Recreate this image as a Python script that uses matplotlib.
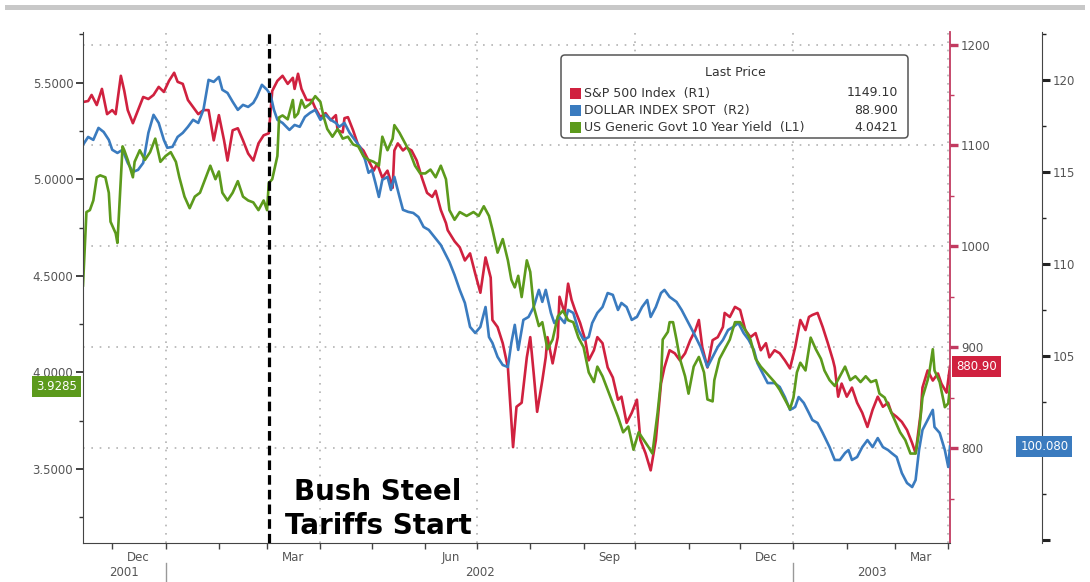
import matplotlib
matplotlib.use('Agg')
import matplotlib.pyplot as plt
import matplotlib.dates as mdates
import matplotlib.transforms as mtransforms
from matplotlib.patches import Rectangle, FancyBboxPatch
import pandas as pd

# --- data (days counted from the first date of the chart) ---
start = pd.Timestamp('2001-11-14')
end = pd.Timestamp('2003-04-02')
tariff_date = pd.Timestamp('2002-03-02')

spx_day = [0, 3, 5, 8, 11, 14, 17, 19, 22, 24, 26, 29, 32, 35, 38, 41, 44, 47, 50, 53, 55, 58, 61, 64, 67, 70,
           73, 76, 79, 82, 84, 87, 90, 93, 96, 99, 102, 105, 108,
           110, 113, 116, 119, 122, 123, 125, 127, 130, 133, 135, 138, 141, 144, 147, 148, 151, 152, 154, 157, 160,
           163, 166, 169, 171, 174, 177, 180, 181, 183, 186, 188, 191, 194, 197, 200, 203, 205, 208, 211, 212, 216,
           219, 222, 225, 228, 231, 234, 237, 238, 241, 244, 247, 250, 252, 255, 258, 260, 262, 264, 267, 269, 270,
           273, 276, 277, 280, 282, 284, 286, 289, 292, 294, 297, 299, 302, 305, 308, 311, 313, 316, 319, 322, 324,
           327, 330, 333, 336, 338, 341, 344, 347, 350, 353, 356, 358, 360, 363, 366, 369, 372, 373, 376, 379, 382,
           385, 388, 391, 394, 397, 399, 402, 405, 408, 411, 414, 417, 420, 422, 424, 427, 430, 433, 436, 437, 439,
           441, 444, 447, 450, 453, 456, 459, 462, 465, 468, 470, 473, 476, 479, 482, 484, 487, 488, 491, 494, 497,
           499, 502, 504]
spx = [1143, 1144, 1150, 1140, 1156, 1131, 1135, 1131, 1169, 1154, 1135, 1122, 1135, 1148, 1146, 1150, 1158, 1153,
       1164, 1172, 1163, 1161, 1145, 1138, 1131, 1135,
       1135, 1105, 1130, 1105, 1085, 1115, 1117, 1105, 1092, 1085, 1102, 1110, 1112,
       1154, 1164, 1169, 1161, 1167, 1156, 1171, 1156, 1145, 1145, 1137, 1128, 1132, 1125, 1130, 1115, 1113, 1127,
       1128, 1115, 1100,
       1095, 1085, 1075, 1082, 1068, 1075, 1058, 1095, 1102, 1095, 1098, 1095, 1085, 1068, 1053, 1049, 1055, 1036,
       1023, 1016, 1005,
       999, 986, 993, 973, 954, 989, 969, 927, 920, 904, 880, 801, 841, 845, 890, 910, 874, 836, 867, 890, 910,
       884, 910, 950, 934, 963, 947, 937, 924, 907, 887, 897, 910, 904, 880, 870, 848, 851, 825, 835, 848, 808,
       795, 778, 808, 864, 880, 897, 894, 887, 894, 907, 917, 927, 900, 880, 907, 910, 920, 934, 930, 940, 937,
       917, 910, 914, 897, 904, 890, 897, 894, 887, 879, 900, 927, 917, 930, 932, 934, 920, 904, 887, 880, 851,
       864, 851, 860, 845, 835, 821, 838, 851, 841, 845, 835, 831, 826, 818, 805, 795, 835, 860, 877, 867, 874,
       864, 855, 880.90]

dxy_day = [0, 3, 6, 9, 12, 15, 17, 20, 23, 26, 29, 32, 35, 38, 41, 44, 47, 49, 52, 55, 58, 61, 64, 67, 70, 73, 76,
           79, 81, 84, 87, 90, 93, 96, 99, 101, 104, 107, 109, 111, 113, 116, 120, 123, 126, 129, 132, 135, 138,
           141, 144, 147, 149, 152, 155, 158, 161, 164, 166, 168, 170, 172, 174, 177, 179, 181, 184, 186, 189, 192,
           195, 198, 201, 208, 213, 216, 219, 222, 225, 228, 231, 234, 236, 238, 241, 244, 247, 249, 251, 253, 256,
           259, 262, 265, 267, 269, 272, 274, 277, 280, 282, 285, 288, 291, 294, 296, 299, 302, 305, 308, 311, 313,
           316, 319, 322, 325, 328, 330, 333, 336, 338, 341, 345, 348, 351, 355, 359, 363, 366, 369, 372, 375, 378,
           381, 384, 387, 390, 392, 395, 398, 402, 405, 408, 411, 414, 416, 419, 422, 424, 427, 430, 434, 437, 440,
           443, 445, 447, 450, 453, 456, 459, 462, 465, 468, 470, 473, 476, 479, 482, 484, 486, 488, 491, 494, 495,
           498, 501, 503, 504]
dxy = [116.47, 116.9, 116.74, 117.39, 117.17, 116.74, 116.2, 116.03, 116.2, 115.49, 115.0, 115.11, 115.49, 117.12,
       118.1, 117.66, 116.74, 116.31, 116.36, 116.9, 117.12, 117.45, 117.83, 117.66, 118.37, 120.0, 119.89,
       120.16, 119.46, 119.29, 118.81, 118.37, 118.64, 118.53, 118.75, 119.08, 119.73, 119.46, 119.19, 118.37,
       117.83, 117.66, 117.28, 117.55, 117.45, 117.99, 118.21, 118.37, 117.83,
       118.1, 117.83, 117.66, 117.45, 117.66, 117.12, 116.74, 116.36, 115.65, 114.95, 115.11, 114.4, 113.64,
       114.57, 114.73, 114.02, 114.73, 113.64, 112.94, 112.83, 112.77,
       112.55, 112.01, 111.85, 111.03, 110.11, 109.4, 108.59, 107.88, 106.58, 106.25, 106.58, 107.66, 106.03,
       105.71, 104.95, 104.51, 104.4, 105.71, 106.69, 105.33, 106.96,
       107.12, 107.66, 108.59, 107.94, 108.59, 107.34, 106.79, 107.12, 106.79, 107.5, 107.34, 106.41, 105.87,
       106.03, 106.79, 107.34, 107.66, 108.42, 108.32, 107.5, 107.88,
       107.66, 106.96, 107.12, 107.66, 108.04, 107.12, 107.66, 108.42, 108.59, 108.21, 107.94, 107.5, 106.96,
       106.25, 105.49, 104.4, 104.95, 105.49, 105.87, 106.41, 106.58,
       106.79, 106.25, 105.87, 105.33, 104.62, 104.08, 103.53, 103.53, 103.32, 102.77, 102.07, 102.23, 102.77,
       102.45, 101.9, 101.52, 101.36, 100.82, 100.05, 99.35, 99.35,
       99.73, 99.89, 99.35, 99.51, 100.05, 100.43, 100.05, 100.54, 100.05, 99.89, 99.73, 99.51, 98.64, 98.1,
       97.88, 98.26, 99.89, 100.98, 101.52, 102.07, 101.14,
       100.82, 99.89, 98.97, 100.08]

yld_day = [0, 2, 4, 6, 8, 10, 13, 15, 16, 19, 20, 23, 24, 26, 29, 30, 33, 36, 39, 42, 45, 48, 51, 54, 56, 59, 62,
           65, 68, 71, 74, 77, 79, 81, 84, 87, 90, 93, 96, 99, 102, 105, 107, 108, 110, 113, 114, 116, 119, 122,
           123, 125, 127, 129, 132, 135, 138, 140, 142, 145, 148, 151, 154, 157, 160, 163, 166, 169, 172, 174, 177,
           180, 181, 184, 187, 190, 193, 196, 199, 202, 205, 208, 211, 213, 216, 219, 223, 227, 230, 233, 236, 238,
           241, 244, 247, 249, 251, 253, 255, 258, 260, 262, 265, 267, 270, 273, 276, 279, 282, 285, 288, 291, 294,
           297, 299, 302, 305, 308, 311, 314, 317, 320, 323, 326, 329, 331, 334, 336, 337, 340, 341, 343, 345, 347,
           350, 352, 355, 358, 361, 363, 366, 367, 370, 373, 376, 379, 382, 385, 388, 391, 394, 397, 399, 402, 405,
           408, 411, 413, 415, 417, 420, 423, 426, 429, 431, 434, 437, 440, 443, 446, 449, 452, 455, 458, 461, 463,
           466, 469, 472, 475, 478, 481, 484, 486, 488, 491, 492, 494, 495, 498, 501, 503, 504]
yld = [4.45, 4.83, 4.84, 4.89, 5.01, 5.02, 5.01, 4.93, 4.78, 4.72, 4.67, 5.17, 5.15, 5.10, 5.01, 5.09, 5.15, 5.10,
       5.14, 5.21, 5.09, 5.12, 5.14, 5.09, 5.01, 4.91, 4.85,
       4.91, 4.93, 5.00, 5.07, 5.00, 5.04, 4.93, 4.89, 4.93, 4.99, 4.91, 4.89, 4.88, 4.84, 4.89, 4.84, 4.98, 5.00,
       5.12, 5.32, 5.33, 5.31, 5.41,
       5.32, 5.34, 5.41, 5.37, 5.39, 5.43, 5.40, 5.32, 5.26, 5.22, 5.26, 5.21, 5.22, 5.18, 5.17, 5.12, 5.10, 5.09,
       5.07, 5.22, 5.15,
       5.21, 5.28, 5.24, 5.19, 5.14, 5.07, 5.03, 5.03, 5.05, 5.01, 5.07, 5.00, 4.84, 4.79, 4.83, 4.81, 4.83, 4.81,
       4.86, 4.81, 4.74,
       4.62, 4.69, 4.58, 4.48, 4.44, 4.50, 4.39, 4.58, 4.52, 4.34, 4.24, 4.26, 4.12, 4.17, 4.29, 4.32, 4.27, 4.26,
       4.18, 4.13, 4.00,
       3.95, 4.03, 3.98, 3.91, 3.84, 3.77, 3.69, 3.72, 3.60, 3.69, 3.65, 3.61, 3.58, 3.79, 3.96, 4.17, 4.21, 4.26,
       4.26, 4.17, 4.07,
       3.98, 3.89, 4.03, 4.08, 4.00, 3.86, 3.85, 3.96, 4.07, 4.12, 4.17, 4.26, 4.26, 4.22, 4.17, 4.07, 4.03, 4.00,
       3.98, 3.95, 3.91,
       3.86, 3.81, 3.87, 4.00, 4.05, 4.01, 4.18, 4.12, 4.07, 4.01, 3.96, 3.93, 3.98, 4.03, 3.96, 3.98, 3.95, 3.98,
       3.95, 3.96, 3.89,
       3.87, 3.81, 3.75, 3.69, 3.65, 3.58, 3.58, 3.69, 3.87, 3.96, 4.00, 4.12, 4.01, 3.95, 3.82, 3.84, 3.9285]

legend_names = ['S&P 500 Index  (R1)', 'DOLLAR INDEX SPOT  (R2)', 'US Generic Govt 10 Year Yield  (L1)']
legend_last = ['1149.10', '88.900', '4.0421']

RED = '#d0213f'
BLUE = '#3a7bbf'
GREEN = '#5c9a1c'
GRID = '#b3b3b3'
TXT = '#555555'

spx_dates = start + pd.to_timedelta(spx_day, unit='D')
dxy_dates = start + pd.to_timedelta(dxy_day, unit='D')
yld_dates = start + pd.to_timedelta(yld_day, unit='D')

fig = plt.figure(figsize=(10.9, 5.82), dpi=100)
fig.patch.set_facecolor('white')
# pixel coordinates of the 1090x582 picture, y measured from the top
pix = mtransforms.Affine2D().scale(1 / 1090, -1 / 582).translate(0, 1) + fig.transFigure

ax_spx = fig.add_axes([83 / 1090, 39 / 582, 867 / 1090, 511 / 582])
ax_dxy = ax_spx.twinx()
ax_yld = ax_spx.twinx()
ax_spx.set_zorder(1)
ax_dxy.set_zorder(2)
ax_yld.set_zorder(3)
ax_dxy.patch.set_visible(False)
ax_yld.patch.set_visible(False)

ax_spx.plot(spx_dates, spx, color=RED, lw=1.9, solid_joinstyle='round')
ax_dxy.plot(dxy_dates, dxy, color=BLUE, lw=1.9, solid_joinstyle='round')
ax_yld.plot(yld_dates, yld, color=GREEN, lw=1.9, solid_joinstyle='round')

ax_spx.set_xlim(start, end)
ax_spx.set_ylim(706, 1212.4)
ax_dxy.set_ylim(94.84, 122.6)
ax_yld.set_ylim(3.117, 5.762)

# spines
for a in (ax_spx, ax_dxy, ax_yld):
    for s in a.spines.values():
        s.set_visible(False)
ax_spx.spines['bottom'].set_visible(True)
ax_spx.spines['bottom'].set_color('#444444')
ax_spx.spines['right'].set_visible(True)
ax_spx.spines['right'].set_color('#c23a60')
ax_spx.spines['right'].set_linewidth(1.3)
ax_dxy.spines['right'].set_visible(True)
ax_dxy.spines['right'].set_position(('outward', 66))
ax_dxy.spines['right'].set_color('#444444')
ax_yld.spines['left'].set_visible(True)
ax_yld.spines['left'].set_color('#444444')

# left axis: yield
ax_yld.yaxis.tick_left()
ax_yld.set_yticks([3.5, 4.0, 4.5, 5.0, 5.5])
ax_yld.set_yticks([3.25, 3.75, 4.25, 4.75, 5.25, 5.75], minor=True)
ax_yld.yaxis.set_major_formatter(plt.FuncFormatter(lambda v, p: f'{v:.4f}'))
ax_yld.tick_params(axis='y', which='major', length=5, width=1.3, color='#333333',
                   labelcolor=TXT, labelsize=8.5, pad=2)
ax_yld.tick_params(axis='y', which='minor', length=3, width=1, color='#333333')

# R1: S&P 500
ax_spx.yaxis.tick_right()
ax_spx.set_yticks([800, 900, 1000, 1100, 1200])
ax_spx.set_yticks([750, 850, 950, 1050, 1150], minor=True)
ax_spx.tick_params(axis='y', which='major', length=6, width=2.4, color='#c23a60',
                   labelcolor=TXT, labelsize=8.5, pad=2)
ax_spx.tick_params(axis='y', which='minor', length=3, width=1, color='#c23a60')

# R2: dollar index
ax_dxy.set_yticks([95, 100, 105, 110, 115, 120])
ax_dxy.set_yticklabels(['', '', '105', '110', '115', '120'])
ax_dxy.set_yticks([97.5, 102.5, 107.5, 112.5, 117.5, 122.5], minor=True)
ax_dxy.tick_params(axis='y', which='major', length=6, width=2.2, color='#222222',
                   labelcolor=TXT, labelsize=8.5, pad=2)
ax_dxy.tick_params(axis='y', which='minor', length=3, width=1, color='#222222')

# x axis: month ticks, quarter labels in the middle of the month
ax_spx.xaxis.set_major_locator(mdates.MonthLocator())
ax_spx.xaxis.set_major_formatter(plt.NullFormatter())
ax_spx.xaxis.set_minor_locator(mdates.MonthLocator(bymonth=[3, 6, 9, 12], bymonthday=16))
ax_spx.xaxis.set_minor_formatter(mdates.DateFormatter('%b'))
ax_spx.tick_params(axis='x', which='major', length=4, width=1, color='#444444')
ax_spx.tick_params(axis='x', which='minor', length=0, labelsize=8.5, labelcolor=TXT, pad=6)

xy_blend = mtransforms.blended_transform_factory(ax_spx.transData, ax_spx.transAxes)
year_starts = [start, pd.Timestamp('2002-01-01'), pd.Timestamp('2003-01-01'), end]
for a, b in zip(year_starts[:-1], year_starts[1:]):
    mid = a + (b - a) / 2
    ax_spx.text(mid, -0.057, str(mid.year), transform=xy_blend, ha='center', va='center',
                fontsize=8.5, color=TXT)
for d in year_starts[1:-1]:
    ax_spx.plot([d, d], [-0.039, -0.078], transform=xy_blend, color='#999999', lw=1, clip_on=False)

# dotted grid
ax_spx.set_axisbelow(True)
ax_spx.grid(axis='y', which='major', color=GRID, lw=1.2, ls=(0, (1, 4)))
for q in pd.date_range('2002-01-01', end, freq='QS'):
    ax_spx.axvline(q, color=GRID, lw=1.2, ls=(0, (1, 4)), zorder=0.5)

# tariff marker
ax_yld.axvline(tariff_date, color='black', lw=2.3, ls=(0, (3, 1.6)), zorder=4)
fig.text(378, 492, 'Bush Steel', transform=pix, ha='center', va='center',
         fontsize=20, fontweight='bold', color='black')
fig.text(378, 526, 'Tariffs Start', transform=pix, ha='center', va='center',
         fontsize=20, fontweight='bold', color='black')

# last-value tags
y_blend = mtransforms.blended_transform_factory(ax_yld.transAxes, ax_yld.transData)
ax_yld.text(-0.007, yld[-1], f'{yld[-1]:.4f}', transform=y_blend, ha='right', va='center',
            fontsize=8.5, color='white', clip_on=False, zorder=6,
            bbox=dict(boxstyle='square,pad=0.35', fc=GREEN, ec='none'))
y_blend = mtransforms.blended_transform_factory(ax_spx.transAxes, ax_spx.transData)
ax_spx.text(1.007, spx[-1], f'{spx[-1]:.2f}', transform=y_blend, ha='left', va='center',
            fontsize=8.5, color='white', clip_on=False, zorder=6,
            bbox=dict(boxstyle='square,pad=0.35', fc=RED, ec='none'))
y_blend = mtransforms.blended_transform_factory(ax_dxy.transAxes, ax_dxy.transData)
ax_dxy.text(1.081, dxy[-1], f'{dxy[-1]:.3f}', transform=y_blend, ha='left', va='center',
            fontsize=8.5, color='white', clip_on=False, zorder=6,
            bbox=dict(boxstyle='square,pad=0.35', fc=BLUE, ec='none'))

# legend box
fig.patches.append(FancyBboxPatch((561, 55), 347, 83, boxstyle='round,pad=0,rounding_size=4',
                                  transform=pix, fc='white', ec='#555555', lw=1.1, zorder=10))
fig.text(735, 73, 'Last Price', transform=pix, ha='center', va='center', fontsize=9, color='#333333',
         zorder=11)
for i, (name, last, col) in enumerate(zip(legend_names, legend_last, [RED, BLUE, GREEN])):
    yy = 93 + i * 17.3
    fig.patches.append(Rectangle((570, yy - 5.5), 11, 11, transform=pix, fc=col, ec='none', zorder=11))
    fig.text(584, yy, name, transform=pix, ha='left', va='center', fontsize=9, color='#333333', zorder=11)
    fig.text(898, yy, last, transform=pix, ha='right', va='center', fontsize=9, color='#333333', zorder=11)

# grey strip at the very top
fig.patches.append(Rectangle((5, 5), 1080, 5, transform=pix, fc='#c8c8c8', ec='none'))

fig.savefig('out.png', dpi=100)
